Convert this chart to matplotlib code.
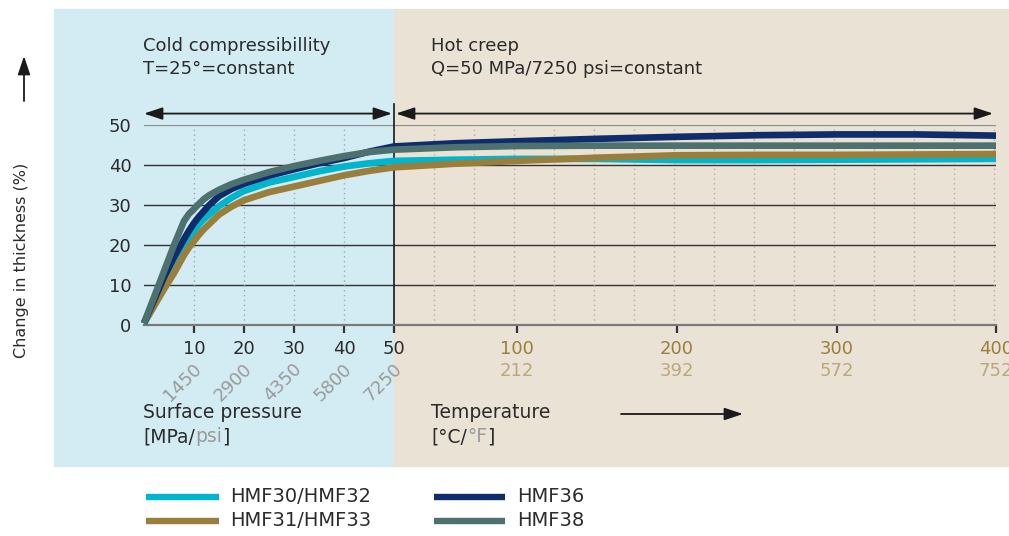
import numpy as np
import matplotlib
matplotlib.use("Agg")
import matplotlib.pyplot as plt
from matplotlib.patches import Rectangle
from matplotlib.lines import Line2D
from matplotlib.text import Annotation

# ========================
# DATA
# ========================
pressure = [0, 4, 6, 8, 9, 10, 11, 12, 13, 15, 17.5, 20, 25, 30, 35, 40, 45, 50]   # MPa
cold_hmf30 = [0.5, 9.5, 14, 19, 21.5, 23.5, 25.2, 26.5, 27.6, 29.7, 31.8, 33.5, 35.6, 37.0, 38.4, 39.6, 40.4, 41.0]
cold_hmf31 = [0.5, 9, 13, 17.5, 19.4, 21, 22.6, 24, 25.2, 27.6, 29.6, 31.2, 33.2, 34.6, 36.0, 37.4, 38.5, 39.4]
cold_hmf36 = [0.5, 12, 17, 21.5, 23.6, 25.5, 27.1, 28.5, 29.9, 32.2, 34.0, 35.3, 37.3, 38.9, 40.4, 41.7, 43.3, 44.6]
cold_hmf38 = [0.5, 13.5, 20, 26, 27.8, 29, 30.3, 31.5, 32.4, 33.8, 35.2, 36.3, 38.2, 39.7, 41.0, 42.2, 43.2, 43.8]

temperature = [50, 75, 100, 150, 200, 250, 300, 350, 400]                # degC
hot_hmf30 = [41.0, 41.3, 41.5, 41.5, 41.2, 41.2, 41.3, 41.4, 41.5]
hot_hmf31 = [39.4, 40.3, 41.0, 41.8, 42.4, 42.5, 42.5, 42.6, 42.7]
hot_hmf36 = [44.6, 45.4, 45.9, 46.5, 47.0, 47.4, 47.6, 47.6, 47.3]
hot_hmf38 = [43.8, 44.4, 44.7, 44.8, 44.8, 44.8, 44.8, 44.8, 44.8]

press_ticks = [10, 20, 30, 40, 50]
psi_labels = ["1450", "2900", "4350", "5800", "7250"]
temp_ticks = [100, 200, 300, 400]
fahr_labels = ["212", "392", "572", "752"]
y_ticks = [0, 10, 20, 30, 40, 50]

series_names = ["HMF30/HMF32", "HMF31/HMF33", "HMF36", "HMF38"]

# ========================
# STYLE
# ========================
CYAN = "#00b5cc"
GOLD = "#9a7f3c"
NAVY = "#0f2c6c"
GREEN = "#4d716e"
BLUE_BG = "#d3ebf3"
BEIGE_BG = "#ebe2d6"
DARK = "#2b2b2b"
PSI_GRAY = "#9a9a9a"
FAHR = "#baa77d"
colors = [CYAN, GOLD, NAVY, GREEN]

plt.rcParams['font.family'] = 'DejaVu Sans'
plt.rcParams['font.size'] = 13

# the temperature part of the x axis is not linear: tick -> axis position
temp_scale_t = [50, 100, 200, 300, 400]
temp_scale_u = [50, 74.6, 106.6, 138.6, 170.4]


def temp_pos(t):
    return np.interp(t, temp_scale_t, temp_scale_u)


W, H = 1009, 536
fig = plt.figure(figsize=(W / 100, H / 100), dpi=100)


def fx(px):
    return px / W


def fy(py):
    return 1 - py / H


# ===== BACKGROUND PANELS =====
fig.patches.append(Rectangle((fx(54), fy(466)), fx(394) - fx(54), fy(9) - fy(466),
                             transform=fig.transFigure, color=BLUE_BG, zorder=-2))
fig.patches.append(Rectangle((fx(394), fy(466)), 1 - fx(394), fy(9) - fy(466),
                             transform=fig.transFigure, color=BEIGE_BG, zorder=-2))

ax = fig.add_axes([fx(144), fy(325.3), fx(996) - fx(144), fy(124.8) - fy(325.3)])
ax.set_facecolor("none")
ax.set_xlim(0, 170.4)
ax.set_ylim(0, 50)
for s in ["top", "right", "left"]:
    ax.spines[s].set_visible(False)
ax.spines["bottom"].set_color("#7a7a7a")
ax.spines["bottom"].set_linewidth(1.6)

# ===== GRID =====
for v in y_ticks[1:-1]:
    ax.axhline(v, color="#333333", lw=1.0, zorder=1)
ax.axhline(50, color="#8c8c8c", lw=1.6, zorder=1)
ax.vlines(press_ticks[:-1], 0, 50, colors="#9fa9ae", linestyles=(0, (1, 2.5)), lw=1.0, zorder=1)
ax.vlines(np.arange(58, 171, 8), 0, 50, colors="#b3aca3", linestyles=(0, (1, 2.5)), lw=1.0, zorder=1)

# divider between the two regimes
ax.plot([50, 50], [0, 55.1], color="#1a1a1a", lw=1.2, clip_on=False, zorder=2)

# ===== CURVES =====
cold = [cold_hmf30, cold_hmf31, cold_hmf36, cold_hmf38]
hot = [hot_hmf30, hot_hmf31, hot_hmf36, hot_hmf38]
for c_vals, h_vals, col in zip(cold, hot, colors):
    xs = list(pressure) + list(temp_pos(temperature))
    ys = list(c_vals) + list(h_vals)
    ax.plot(xs, ys, color=col, lw=4.8, solid_capstyle="butt",
            solid_joinstyle="round", zorder=3, clip_on=False)

# ===== DOUBLE ARROWS =====
arr = dict(arrowstyle="<|-|>,head_length=0.75,head_width=0.25", color="#1a1a1a",
           lw=1.3, shrinkA=0, shrinkB=0, mutation_scale=15)
ax.annotate("", xy=(0, 52.8), xytext=(49.6, 52.8), arrowprops=arr, annotation_clip=False)
ax.annotate("", xy=(50.4, 52.8), xytext=(169.8, 52.8), arrowprops=arr, annotation_clip=False)

# ===== TICKS =====
xt_pos = list(press_ticks) + list(temp_pos(temp_ticks))
xt_lab = [str(p) for p in press_ticks] + [str(t) for t in temp_ticks]
ax.set_xticks(xt_pos, xt_lab)
ax.tick_params(axis="x", direction="out", length=6, width=1.6, color="#333333",
               pad=4.5, labelsize=13)
for i, lab in enumerate(ax.get_xticklabels()):
    lab.set_color(DARK if i < len(press_ticks) else GOLD)
ax.set_yticks(y_ticks)
ax.tick_params(axis="y", length=0, pad=9, labelsize=13, labelcolor=DARK)

for t, f in zip(temp_ticks, fahr_labels):
    ax.text(temp_pos(t), -11.3, f, color=FAHR, ha="center", va="center", fontsize=13)
for p, s in zip(press_ticks, psi_labels):
    ax.text(p - 2.2, -14.2, s, color=PSI_GRAY, ha="center", va="center",
            rotation=45, fontsize=13)

# ===== TEXTS =====
fig.text(fx(143), fy(37), "Cold compressibillity\nT=25°=constant", va="top", ha="left",
         color=DARK, fontsize=13, linespacing=1.36)
fig.text(fx(431), fy(37), "Hot creep\nQ=50 MPa/7250 psi=constant", va="top", ha="left",
         color=DARK, fontsize=13, linespacing=1.36)

fig.text(fx(143), fy(413), "Surface pressure", va="center", ha="left", color=DARK, fontsize=13.5)
t1 = fig.text(fx(143), fy(437), "[MPa/", va="center", ha="left", color=DARK, fontsize=13.5)
t2 = fig.add_artist(Annotation("psi", xy=(1, 0), xycoords=t1, va="bottom", ha="left",
                               color=PSI_GRAY, fontsize=13.5))
fig.add_artist(Annotation("]", xy=(1, 0), xycoords=t2, va="bottom", ha="left", color=DARK,
                          fontsize=13.5))

fig.text(fx(431), fy(413), "Temperature", va="center", ha="left", color=DARK, fontsize=13.5)
t3 = fig.text(fx(431), fy(437), "[°C/", va="center", ha="left", color=DARK, fontsize=13.5)
t4 = fig.add_artist(Annotation("°F", xy=(1, 0), xycoords=t3, va="bottom", ha="left",
                               color=PSI_GRAY, fontsize=13.5))
fig.add_artist(Annotation("]", xy=(1, 0), xycoords=t4, va="bottom", ha="left", color=DARK,
                          fontsize=13.5))

one_arr = dict(arrowstyle="-|>,head_length=0.75,head_width=0.25", color="#1a1a1a",
               lw=1.3, shrinkA=0, shrinkB=0, mutation_scale=15)
fig.add_artist(Annotation(
    "", xy=(fx(743), fy(414)), xytext=(fx(621), fy(414)), xycoords="figure fraction",
    textcoords="figure fraction", arrowprops=one_arr))

fig.text(fx(22), fy(260), "Change in thickness (%)", rotation=90, va="center",
         ha="center", color=DARK, fontsize=11.5)
fig.add_artist(Annotation(
    "", xy=(fx(24), fy(56)), xytext=(fx(24), fy(101)), xycoords="figure fraction",
    textcoords="figure fraction", arrowprops=one_arr))

# ===== LEGEND =====
leg_x = [(146, 219, 230), (146, 219, 230), (434, 505, 517), (434, 505, 517)]
leg_y = [497, 521, 497, 521]
for name, col, (x0, x1, xt), y in zip(series_names, colors, leg_x, leg_y):
    fig.add_artist(Line2D([fx(x0), fx(x1)], [fy(y), fy(y)], color=col, lw=4.6,
                          solid_capstyle="butt", transform=fig.transFigure))
    fig.text(fx(xt), fy(y), name, va="center", ha="left", color=DARK, fontsize=14)

plt.savefig("out.png", dpi=100)
plt.close()
